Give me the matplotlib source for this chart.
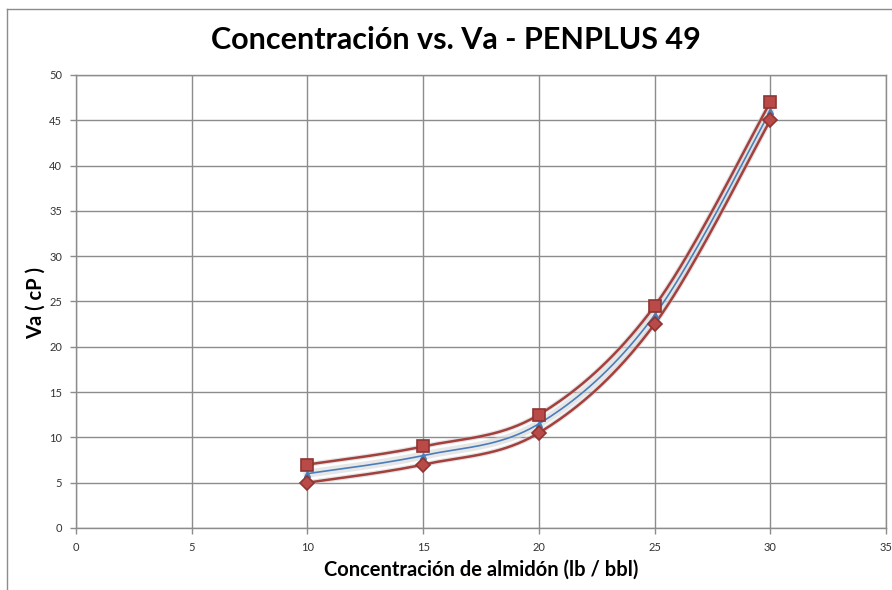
import numpy as np
import matplotlib
matplotlib.use('Agg')
import matplotlib.pyplot as plt
from matplotlib.lines import Line2D

# data
conc = [10, 15, 20, 25, 30]
va_high = [7, 9, 12.5, 24.5, 47]
va_mid = [6, 8, 11.5, 23.5, 46]
va_low = [5, 7, 10.5, 22.5, 45]

RED = '#A3403D'
RED_FACE = '#B94A47'
BLUE = '#4A7EBB'
GRID = '#8C8C8C'


def smooth(x, y, n=40):
    """Excel-like smoothed line (Catmull-Rom / bezier)."""
    x = np.asarray(x, float)
    y = np.asarray(y, float)
    px = np.concatenate([[x[0]], x, [x[-1]]])
    py = np.concatenate([[y[0]], y, [y[-1]]])
    xs, ys = [], []
    t = np.linspace(0, 1, n)
    for i in range(1, len(px) - 2):
        p0 = np.array([px[i], py[i]])
        p3 = np.array([px[i + 1], py[i + 1]])
        c1 = p0 + (np.array([px[i + 1], py[i + 1]]) - np.array([px[i - 1], py[i - 1]])) / 6
        c2 = p3 - (np.array([px[i + 2], py[i + 2]]) - np.array([px[i], py[i]])) / 6
        b = ((1 - t) ** 3)[:, None] * p0 + (3 * (1 - t) ** 2 * t)[:, None] * c1 \
            + (3 * (1 - t) * t ** 2)[:, None] * c2 + (t ** 3)[:, None] * p3
        xs.extend(b[:, 0])
        ys.extend(b[:, 1])
    return np.array(xs), np.array(ys)


plt.rcParams['font.family'] = ['Lato', 'DejaVu Sans']

fig = plt.figure(figsize=(8.92, 5.90), dpi=100)
ax = fig.add_axes([0.0852, 0.1051, 0.9081, 0.7678])

# light shadow band around middle series
sx, sy = smooth(conc, va_mid)
ax.plot(sx, sy, color='#D8D8D8', lw=6, alpha=0.6, zorder=2, solid_capstyle='round')
ax.plot(sx, sy, color=BLUE, lw=1.2, zorder=3)
ax.plot(conc, va_mid, ls='none', marker='^', ms=4, color=BLUE, zorder=4)

for vals, mk, ms in [(va_high, 's', 9), (va_low, 'D', 7)]:
    sx, sy = smooth(conc, vals)
    ax.plot(sx, sy, color='#C9C9C9', lw=3.5, alpha=0.5, zorder=2)
    ax.plot(sx, sy, color=RED, lw=1.8, zorder=3)
    ax.plot(conc, vals, ls='none', marker=mk, ms=ms, markerfacecolor=RED_FACE,
            markeredgecolor='#8E3432', markeredgewidth=1.2, zorder=5)

ax.set_xlim(0, 35)
ax.set_ylim(0, 50)
ax.set_xticks(np.arange(0, 36, 5))
ax.set_yticks(np.arange(0, 51, 5))
ax.grid(True, color=GRID, lw=1)
ax.set_axisbelow(True)
for s in ax.spines.values():
    s.set_color(GRID)
    s.set_linewidth(1)
ax.tick_params(axis='both', colors=GRID, labelcolor='#333333', labelsize=8,
               length=4, width=1, direction='out')
ax.tick_params(axis='x', pad=6)
ax.tick_params(axis='y', pad=6)

fig.text(0.5112, 0.933, 'Concentración vs. Va - PENPLUS 49', ha='center', va='center',
         fontsize=22, fontweight='bold', color='black')
fig.text(0.539, 0.034, 'Concentración de almidón (lb / bbl)', ha='center', va='center',
         fontsize=14.5, fontweight='bold', color='black')
fig.text(0.040, 0.487, 'Va ( cP )', ha='center', va='center', rotation=90,
         fontsize=14.5, fontweight='bold', color='black')

# chart area border (top and left visible)
fig.add_artist(Line2D([0.0078, 0.0078], [0, 0.9847], color=GRID, lw=1))
fig.add_artist(Line2D([0.0078, 1], [0.9847, 0.9847], color=GRID, lw=1))

fig.savefig('out.png', dpi=100)
